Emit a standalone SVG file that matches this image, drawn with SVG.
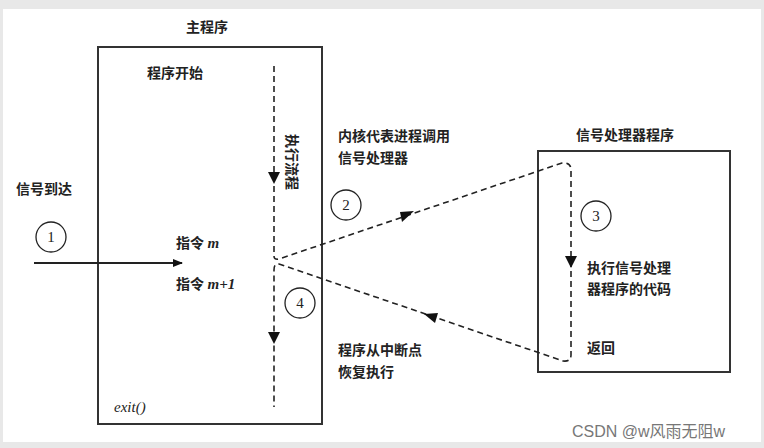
<svg xmlns="http://www.w3.org/2000/svg" width="764" height="448" viewBox="0 0 764 448">
<style>
.t{font-family:"Liberation Serif","Noto Sans CJK SC",serif;font-size:14px;fill:#222;font-weight:bold}
.i{font-family:"Liberation Serif",serif;font-style:italic;font-size:15px;fill:#222}
.box{fill:#fff;stroke:#333;stroke-width:2}
.d{fill:none;stroke:#222;stroke-width:1.6;stroke-dasharray:6,4}
.c{fill:none;stroke:#222;stroke-width:1.3}
.n{font-family:"Liberation Serif",serif;font-size:15px;fill:#222;text-anchor:middle}
</style>
<defs><marker id="a" markerWidth="10" markerHeight="8" refX="9" refY="4" orient="auto" markerUnits="userSpaceOnUse"><path d="M0,0L10,4L0,8z" fill="#111"/></marker></defs>
<rect width="764" height="448" fill="#e8e8e8"/>
<rect x="3" y="9" width="758" height="433" fill="#fff"/>
<g id="main"><rect class="box" x="98" y="47" width="224" height="377"/>
<text class="t" x="186" y="32">主程序</text>
<text class="t" x="147" y="78">程序开始</text>
<text class="t" x="176" y="248">指令 <tspan class="i">m</tspan></text>
<text class="t" x="176" y="289">指令 <tspan class="i">m+1</tspan></text>
<text class="i" x="114" y="412">exit()</text>
<text class="t" transform="translate(287,134) rotate(90)">执行流程</text></g>
<g id="handler"><rect class="box" x="538" y="151" width="192" height="221"/>
<text class="t" x="576" y="140">信号处理器程序</text>
<text class="t" x="587" y="273">执行信号处理</text>
<text class="t" x="587" y="294">器程序的代码</text>
<text class="t" x="587" y="353">返回</text></g>
<g id="labels">
<text class="t" x="16" y="194">信号到达</text>
<text class="t" x="338" y="141">内核代表进程调用</text>
<text class="t" x="338" y="163">信号处理器</text>
<text class="t" x="338" y="355">程序从中断点</text>
<text class="t" x="338" y="377">恢复执行</text>
<circle class="c" cx="51" cy="237" r="15"/><text class="n" x="51" y="242">1</text>
<circle class="c" cx="346" cy="205" r="15"/><text class="n" x="346" y="210">2</text>
<circle class="c" cx="596" cy="216" r="15"/><text class="n" x="596" y="221">3</text>
<circle class="c" cx="300" cy="303" r="15"/><text class="n" x="300" y="308">4</text>
</g>
<g id="connectors">
<line x1="34" y1="263" x2="182" y2="263" stroke="#222" stroke-width="2" marker-end="url(#a)"/>
<path class="d" d="M274,66V256Q274,260 279,259L562,163Q571,162 571,170V355Q571,362 563,361L279,264Q274,263 274,270V407"/>
<path d="M268,172L280,172L274,184z" fill="#111"/>
<path d="M268,332L280,332L274,344z" fill="#111"/>
<path d="M565,256L577,256L571,268z" fill="#111"/>
<path d="M402,222L414,211L400,212z" fill="#111"/>
<path d="M424,314L438,313L435,323z" fill="#111"/>
</g>
<text x="572" y="437" font-family="Liberation Sans,Noto Sans CJK SC,sans-serif" font-size="16" fill="#777">CSDN @w风雨无阻w</text>
</svg>
